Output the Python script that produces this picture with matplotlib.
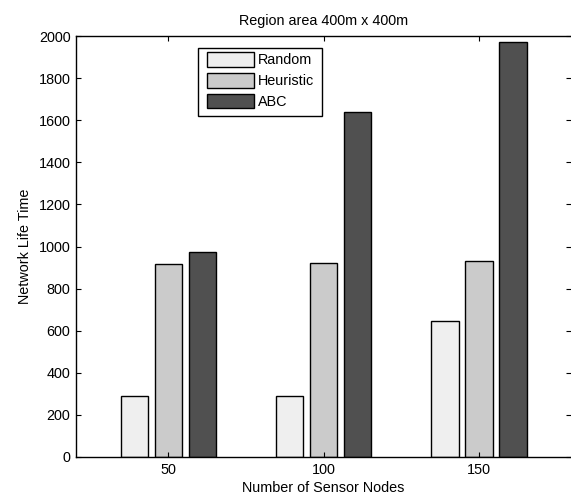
import numpy as np
import matplotlib
matplotlib.use('Agg')
import matplotlib.pyplot as plt
from matplotlib.patches import Rectangle

plt.rcParams['font.family'] = ['Liberation Sans', 'DejaVu Sans']

# Data
nodes = ['50', '100', '150']
random_vals = [291, 291, 646]
heuristic_vals = [915, 920, 933]
abc_vals = [972, 1640, 1971]
series_names = ['Random', 'Heuristic', 'ABC']
colors = ['#efefef', '#cbcbcb', '#505050']

fs = 10.4
W, H = 571, 501

fig = plt.figure(figsize=(W / 100, H / 100), dpi=100)
ax = fig.add_axes([76 / W, 44 / H, 495 / W, 421 / H])

x = np.arange(1, len(nodes) + 1)
width = 0.177
offset = 0.219
for i, (vals, name, c) in enumerate(zip([random_vals, heuristic_vals, abc_vals], series_names, colors)):
    ax.bar(x + (i - 1) * offset, vals, width, color=c, edgecolor='black', linewidth=1, label=name)

ax.set_xlim(0.405, 3.594)
ax.set_ylim(0, 2000)
ax.set_xticks(x)
ax.set_xticklabels(nodes)
ax.set_yticks(np.arange(0, 2001, 200))
ax.tick_params(direction='in', length=3.5, top=True, right=True, labelsize=fs, pad=4)
for s in ax.spines.values():
    s.set_linewidth(1)
ax.spines['right'].set_visible(False)

ax.set_title('Region area 400m x 400m', fontsize=fs, pad=8)
ax.set_xlabel('Number of Sensor Nodes', fontsize=fs, labelpad=3)
ax.set_ylabel('Network Life Time', fontsize=fs, labelpad=5)

# legend box drawn separately (wider inset like the original), entries on top
ax.add_patch(Rectangle((198 / W, 1 - 116 / H), 124 / W, 68 / H,
                       transform=fig.transFigure, facecolor='white',
                       edgecolor='black', linewidth=1, zorder=4, clip_on=False))
leg = ax.legend(loc='upper left', bbox_to_anchor=(207 / W, 1 - 52 / H),
                bbox_transform=fig.transFigure, fontsize=fs, frameon=False,
                handlelength=3.25, handleheight=1.2, labelspacing=0.38,
                handletextpad=0.25, borderpad=0, borderaxespad=0)
leg.set_zorder(5)

fig.savefig('out.png', dpi=100)
